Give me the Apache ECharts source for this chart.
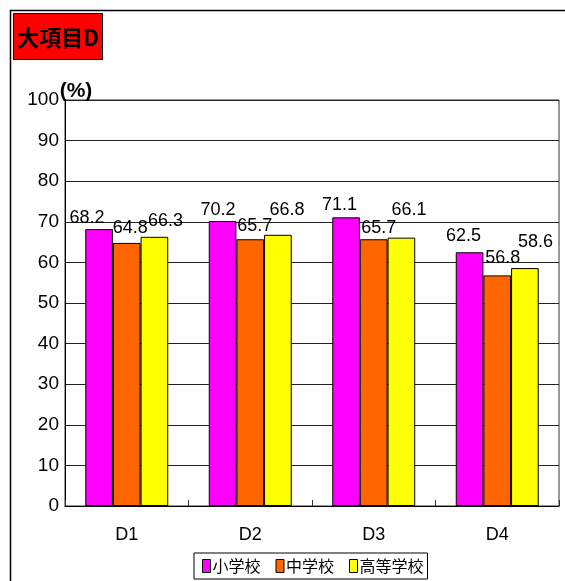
<!DOCTYPE html>
<html>
<head>
<meta charset="utf-8">
<script src="https://cdn.jsdelivr.net/npm/echarts@6/dist/echarts.min.js"></script>
<style>
  html, body { margin: 0; padding: 0; background: #fff; }
  #chart { width: 565px; height: 581px; }
</style>
</head>
<body>
<div id="chart"></div>
<script>
// Categories and percentages per school level
const categories = ['D1', 'D2', 'D3', 'D4'];
const seriesNames = ['小学校', '中学校', '高等学校'];
const elementary = [68.2, 70.2, 71.1, 62.5];
const juniorHigh = [64.8, 65.7, 65.7, 56.8];
const highSchool = [66.3, 66.8, 66.1, 58.6];
const yTicks = [0, 10, 20, 30, 40, 50, 60, 70, 80, 90, 100];

// Label nudges [dx, dy] per bar, so value labels sit where the layout puts them
const labelNudge = [
  [[-12, -2], [-4.5, -2], [-6.5, -3], [-6, -7]],
  [[3.5, -6], [4.5, -4], [5, -2], [5.5, -8]],
  [[11, -7], [9, -16], [7.5, -19], [10.5, -17]]
];

const colors = ['#FF00FF', '#FF6600', '#FFFF00'];
const numFont = '"Liberation Sans", Arial, sans-serif';
const jpFont = '"Noto Sans CJK JP", "Noto Sans", sans-serif';

const values = [elementary, juniorHigh, highSchool];

const series = values.map((vals, si) => ({
  name: seriesNames[si],
  type: 'bar',
  barWidth: '22.4%',
  barGap: '0%',
  itemStyle: { color: colors[si], borderColor: '#000', borderWidth: 1 },
  label: {
    show: true,
    position: 'top',
    distance: 0,
    color: '#000',
    fontFamily: numFont,
    fontSize: 18,
    formatter: p => p.value.toFixed(1)
  },
  data: vals.map((v, i) => ({
    value: v,
    label: { offset: labelNudge[si][i] }
  }))
}));

const chart = echarts.init(document.getElementById('chart'), null, { renderer: 'canvas' });
chart.setOption({
  animation: false,
  backgroundColor: '#fff',
  color: colors,
  grid: {
    left: 65, right: 6, top: 100, bottom: 75,
    show: true, borderColor: '#333', borderWidth: 1
  },
  xAxis: {
    type: 'category',
    data: categories,
    axisLine: { lineStyle: { color: '#000', width: 1 } },
    axisTick: { show: true, inside: true, length: 6, lineStyle: { color: '#333' } },
    axisLabel: { color: '#000', fontFamily: numFont, fontSize: 18, margin: 20 }
  },
  yAxis: {
    type: 'value',
    min: yTicks[0],
    max: yTicks[yTicks.length - 1],
    interval: yTicks[1] - yTicks[0],
    axisLine: { show: true, lineStyle: { color: '#000', width: 1 } },
    axisTick: { show: false },
    splitLine: { lineStyle: { color: '#222', width: 1 } },
    axisLabel: {
      color: '#000', fontFamily: numFont, fontSize: 19, margin: 6,
      formatter: v => yTicks.includes(v) ? String(v) : ''
    }
  },
  legend: {
    data: seriesNames,
    left: 194,
    top: 553,
    orient: 'horizontal',
    itemWidth: 8,
    itemHeight: 13,
    itemGap: 15,
    padding: [5, 4, 5, 8],
    borderColor: '#000',
    borderWidth: 1,
    backgroundColor: '#fff',
    icon: 'rect',
    itemStyle: { borderColor: '#000', borderWidth: 1 },
    textStyle: { color: '#000', fontFamily: jpFont, fontSize: 16, padding: [0, 0, 0, -3] }
  },
  graphic: [
    {
      type: 'rect',
      shape: { x: 10.5, y: 10.5, width: 620, height: 620 },
      style: { fill: 'none', stroke: '#000', lineWidth: 1.5 },
      z: 100, silent: true
    },
    {
      type: 'rect',
      shape: { x: 13.5, y: 13.5, width: 89, height: 46 },
      style: { fill: '#FF0000', stroke: '#000', lineWidth: 1 },
      z: 100
    },
    {
      type: 'text',
      x: 58, y: 38,
      style: {
        text: '大項目D', fill: '#000', font: 'bold 22px ' + jpFont,
        align: 'center', verticalAlign: 'middle'
      },
      z: 101
    },
    {
      type: 'text',
      x: 76, y: 91,
      style: {
        text: '(%)', fill: '#000', font: 'bold 21px ' + numFont,
        align: 'center', verticalAlign: 'middle'
      },
      z: 101
    }
  ],
  series: series
});
</script>
</body>
</html>
